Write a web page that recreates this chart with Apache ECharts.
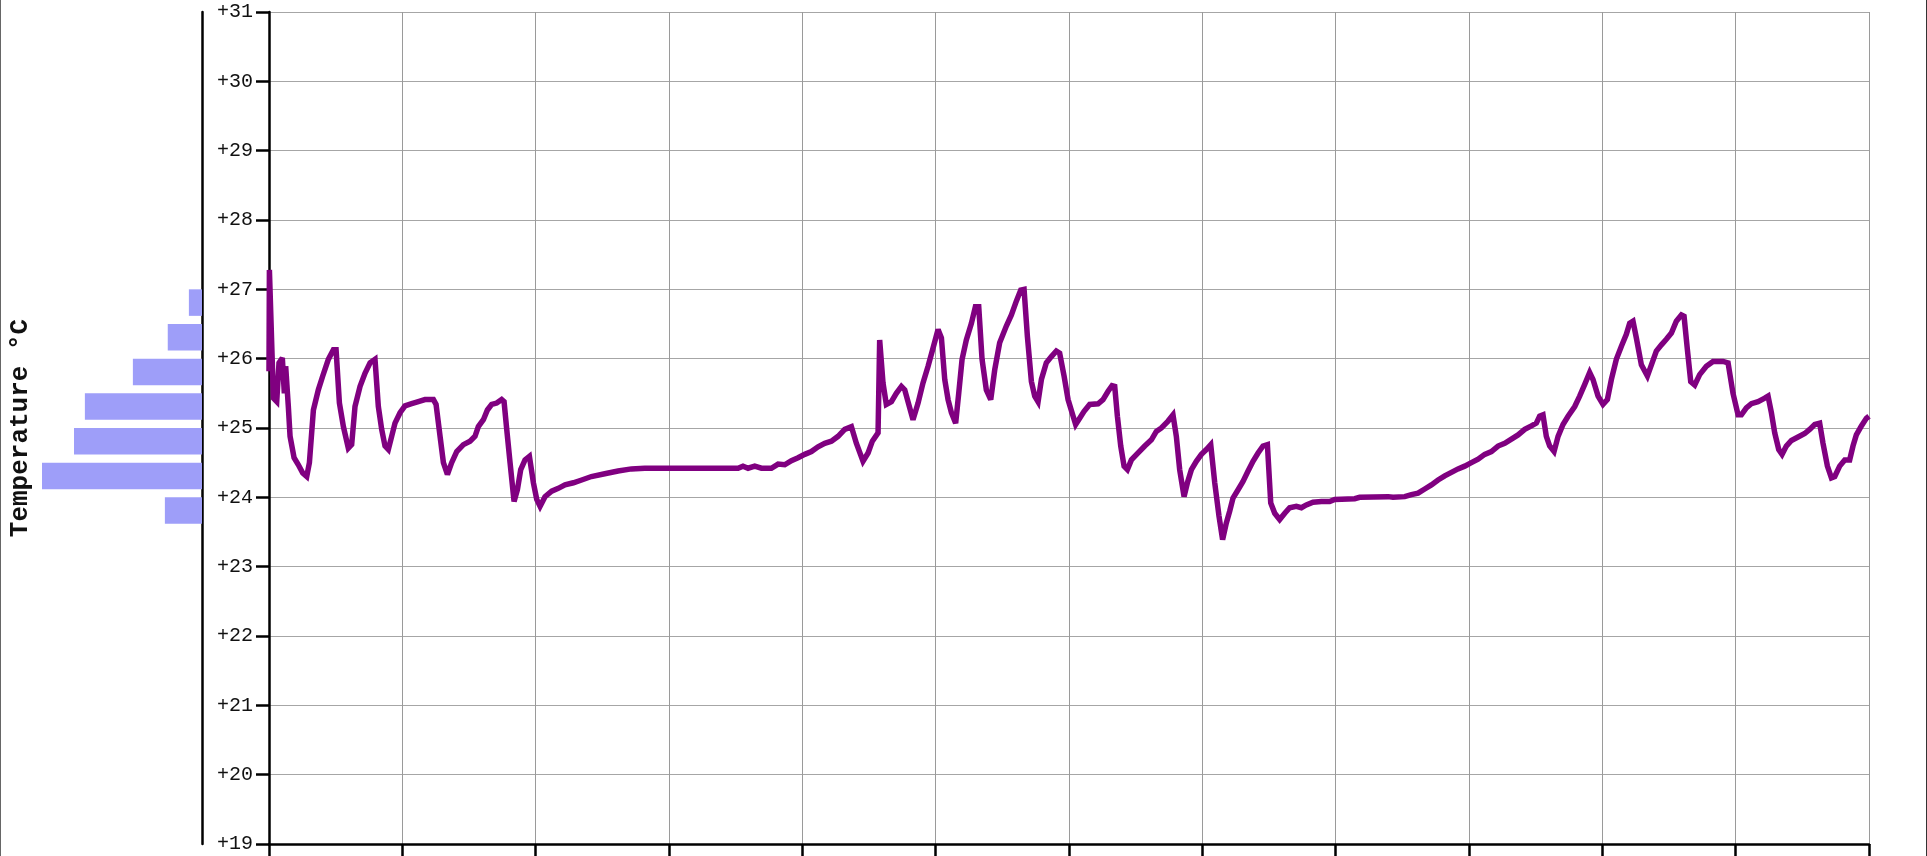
<!DOCTYPE html>
<html>
<head>
<meta charset="utf-8">
<script src="https://cdn.jsdelivr.net/npm/echarts@6/dist/echarts.min.js"></script>
<style>
  html, body { margin: 0; padding: 0; background: #fff; }
  #chart { width: 1927px; height: 856px; box-sizing: border-box; border-left: 1px solid #666; border-right: 1px solid #333; }
</style>
</head>
<body>
<div id="chart"></div>
<script>
// ---- data ----
var timeValues = [
  0, 0.003, 0.033, 0.058, 0.075, 0.1, 0.115, 0.125, 0.145, 0.158, 0.188, 0.22, 0.253, 0.283, 0.303,
  0.333, 0.37, 0.403, 0.445, 0.483, 0.503, 0.528, 0.558, 0.595, 0.62, 0.645, 0.683, 0.72, 0.758, 0.795,
  0.82, 0.845, 0.87, 0.895, 0.92, 0.945, 0.983, 1.02, 1.07, 1.12, 1.17, 1.233, 1.253, 1.283, 1.308,
  1.338, 1.37, 1.408, 1.458, 1.508, 1.545, 1.57, 1.608, 1.638, 1.67, 1.708, 1.745, 1.763, 1.783, 1.808,
  1.838, 1.863, 1.888, 1.92, 1.953, 1.983, 2.008, 2.033, 2.07, 2.12, 2.17, 2.22, 2.283, 2.345, 2.418,
  2.518, 2.618, 2.718, 2.818, 3.09, 3.518, 3.555, 3.593, 3.643, 3.693, 3.768, 3.818, 3.868, 3.918, 3.968,
  4.018, 4.068, 4.118, 4.168, 4.218, 4.268, 4.318, 4.368, 4.405, 4.455, 4.493, 4.525, 4.568, 4.58, 4.605,
  4.63, 4.668, 4.705, 4.743, 4.768, 4.83, 4.868, 4.905, 4.943, 4.98, 5.018, 5.043, 5.068, 5.093, 5.118,
  5.15, 5.173, 5.198, 5.23, 5.268, 5.298, 5.323, 5.348, 5.38, 5.413, 5.443, 5.48, 5.53, 5.568, 5.605,
  5.638, 5.663, 5.688, 5.718, 5.743, 5.768, 5.793, 5.83, 5.868, 5.905, 5.93, 5.963, 5.993, 6.023, 6.05,
  6.08, 6.113, 6.155, 6.218, 6.255, 6.293, 6.323, 6.343, 6.363, 6.388, 6.413, 6.438, 6.468, 6.518, 6.568,
  6.618, 6.655, 6.693, 6.743, 6.78, 6.805, 6.83, 6.863, 6.888, 6.918, 6.955, 6.993, 7.03, 7.063, 7.093,
  7.125, 7.152, 7.18, 7.205, 7.23, 7.268, 7.305, 7.343, 7.38, 7.418, 7.455, 7.488, 7.513, 7.543, 7.58,
  7.618, 7.655, 7.705, 7.743, 7.78, 7.83, 7.893, 7.955, 7.993, 8.143, 8.18, 8.393, 8.405, 8.43, 8.518,
  8.568, 8.618, 8.668, 8.718, 8.768, 8.818, 8.868, 8.918, 8.968, 9.018, 9.068, 9.118, 9.168, 9.218, 9.268,
  9.318, 9.368, 9.418, 9.468, 9.505, 9.53, 9.555, 9.58, 9.605, 9.638, 9.668, 9.705, 9.743, 9.793, 9.83,
  9.868, 9.905, 9.93, 9.968, 10.005, 10.038, 10.068, 10.105, 10.143, 10.18, 10.205, 10.23, 10.255, 10.293, 10.338,
  10.368, 10.405, 10.443, 10.48, 10.518, 10.555, 10.593, 10.613, 10.638, 10.663, 10.693, 10.73, 10.78, 10.83, 10.905,
  10.943, 10.98, 11.018, 11.043, 11.08, 11.118, 11.168, 11.218, 11.243, 11.268, 11.293, 11.323, 11.348, 11.38, 11.418,
  11.468, 11.518, 11.555, 11.593, 11.63, 11.655, 11.688, 11.718, 11.743, 11.78, 11.818, 11.855, 11.88, 11.905, 11.943,
  11.98, 12.0
];
var temperatures = [
  25.82, 27.28, 25.43, 25.38, 25.94, 26.01, 25.5, 25.89, 25.31, 24.88, 24.57, 24.47, 24.35, 24.3, 24.5,
  25.26, 25.55, 25.75, 25.99, 26.13, 26.13, 25.36, 25.02, 24.71, 24.76, 25.31, 25.6, 25.79, 25.94, 25.99,
  25.31, 24.98, 24.74, 24.69, 24.88, 25.07, 25.22, 25.32, 25.35, 25.38, 25.41, 25.41, 25.34, 24.88, 24.5,
  24.33, 24.5, 24.66, 24.76, 24.81, 24.88, 25.02, 25.12, 25.26, 25.34, 25.36, 25.41, 25.38, 24.98, 24.5,
  23.94, 24.11, 24.4, 24.54, 24.59, 24.21, 23.97, 23.87, 24.01, 24.09, 24.13, 24.18, 24.21, 24.25, 24.3,
  24.34, 24.38, 24.41, 24.42, 24.42, 24.42, 24.45, 24.42, 24.45, 24.42, 24.42, 24.48, 24.47, 24.53, 24.57,
  24.62, 24.66, 24.73, 24.78, 24.81, 24.88, 24.98, 25.02, 24.78, 24.52, 24.64, 24.81, 24.93, 26.27, 25.65,
  25.34, 25.38, 25.5, 25.6, 25.55, 25.12, 25.36, 25.65, 25.89, 26.15, 26.42, 26.3, 25.7, 25.41, 25.22,
  25.07, 25.5, 25.99, 26.27, 26.51, 26.75, 26.75, 25.99, 25.55, 25.41, 25.84, 26.23, 26.47, 26.63, 26.83,
  26.99, 27.0, 26.32, 25.67, 25.46, 25.38, 25.7, 25.94, 26.03, 26.11, 26.08, 25.75, 25.41, 25.22, 25.05,
  25.14, 25.24, 25.34, 25.35, 25.41, 25.53, 25.61, 25.6, 25.17, 24.74, 24.45, 24.4, 24.54, 24.64, 24.74,
  24.83, 24.95, 25.0, 25.1, 25.19, 24.88, 24.4, 24.01, 24.21, 24.4, 24.52, 24.62, 24.69, 24.76, 24.21,
  23.73, 23.39, 23.63, 23.8, 23.99, 24.11, 24.23, 24.38, 24.52, 24.64, 24.74, 24.76, 23.92, 23.77, 23.68,
  23.77, 23.85, 23.87, 23.85, 23.89, 23.93, 23.94, 23.94, 23.97, 23.98, 24.0, 24.01, 24.03, 24.0, 24.01,
  24.04, 24.06, 24.12, 24.18, 24.25, 24.31, 24.36, 24.41, 24.45, 24.5, 24.55, 24.62, 24.66, 24.74, 24.78,
  24.84, 24.9, 24.98, 25.03, 25.07, 25.17, 25.19, 24.88, 24.74, 24.66, 24.88, 25.05, 25.17, 25.31, 25.46,
  25.63, 25.8, 25.7, 25.46, 25.34, 25.41, 25.7, 25.99, 26.18, 26.35, 26.51, 26.54, 26.3, 25.91, 25.75,
  25.91, 26.11, 26.2, 26.28, 26.37, 26.54, 26.63, 26.61, 26.13, 25.67, 25.62, 25.77, 25.89, 25.96, 25.96,
  25.94, 25.5, 25.19, 25.19, 25.29, 25.35, 25.38, 25.43, 25.46, 25.22, 24.93, 24.69, 24.62, 24.74, 24.82,
  24.87, 24.92, 24.98, 25.05, 25.07, 24.78, 24.45, 24.28, 24.3, 24.45, 24.54, 24.54, 24.74, 24.9, 25.03,
  25.14, 25.17
];
// histogram: upper edge of each 0.5 °C bin, and its sample count
var histBinUpper = [27, 26.5, 26, 25.5, 25, 24.5, 24];
var histCounts   = [4.1, 10.7, 21.6, 36.6, 40, 50, 11.6];
var yTicks = [19, 20, 21, 22, 23, 24, 25, 26, 27, 28, 29, 30, 31];

// ---- build ----
var BIN = 0.5, BAR_FRACTION = 0.765;
var lineData = timeValues.map(function (t, i) { return [t, temperatures[i]]; });
var histData = histBinUpper.map(function (u, i) { return [histCounts[i], u]; });
var FONT = '"Liberation Mono", "DejaVu Sans Mono", monospace';

var chart = echarts.init(document.getElementById('chart'), null, { renderer: 'canvas' });
chart.setOption({
  animation: false,
  backgroundColor: '#fff',
  grid: [
    { left: 268, top: 12, width: 1600, height: 832, containLabel: false, outerBoundsMode: 'none' },
    { left: 9, top: 12, width: 192, height: 832, containLabel: false, outerBoundsMode: 'none' }
  ],
  xAxis: [
    {
      gridIndex: 0, type: 'value', min: 0, max: 12, interval: 1,
      axisLine: { show: true, onZero: false, lineStyle: { color: '#000', width: 2.5 } },
      axisTick: { show: true, inside: false, length: 14, lineStyle: { color: '#000', width: 2.5 } },
      axisLabel: { show: false },
      splitLine: { show: true, lineStyle: { color: '#9a9a9a', width: 1 } }
    },
    {
      gridIndex: 1, type: 'value', min: 0, max: 60, inverse: true,
      axisLine: { show: false }, axisTick: { show: false }, axisLabel: { show: false }, splitLine: { show: false }
    }
  ],
  yAxis: [
    {
      gridIndex: 0, type: 'value', min: yTicks[0], max: yTicks[yTicks.length - 1], interval: 1,
      axisLine: { show: true, onZero: false, lineStyle: { color: '#000', width: 2.5 } },
      axisTick: { show: true, inside: false, length: 13, lineStyle: { color: '#000', width: 2.5 } },
      axisLabel: {
        show: true, margin: 16, color: '#111', fontSize: 20, fontFamily: FONT,
        formatter: function (v) { return (v > 0 ? '+' : '') + v; }
      },
      splitLine: { show: true, lineStyle: { color: '#a6a6a6', width: 1 } }
    },
    {
      gridIndex: 1, type: 'value', min: yTicks[0], max: yTicks[yTicks.length - 1], position: 'right',
      axisLine: { show: true, onZero: false, lineStyle: { color: '#000', width: 2.5 } },
      axisTick: { show: false }, axisLabel: { show: false }, splitLine: { show: false }
    }
  ],
  graphic: [
    {
      type: 'text', x: 19, y: 428, rotation: Math.PI / 2,
      style: {
        text: 'Temperature °C', fontFamily: FONT, fontWeight: 'bold', fontSize: 26,
        fill: '#111', align: 'center', verticalAlign: 'middle'
      }
    }
  ],
  series: [
    {
      type: 'custom', xAxisIndex: 1, yAxisIndex: 1, data: histData, clip: false,
      encode: { x: 0, y: 1 },
      renderItem: function (params, api) {
        var cnt = api.value(0), upper = api.value(1);
        var p0 = api.coord([0, upper]);
        var p1 = api.coord([cnt, upper - BIN * BAR_FRACTION]);
        return {
          type: 'rect',
          shape: { x: p1[0], y: p0[1], width: p0[0] - p1[0], height: p1[1] - p0[1] },
          style: { fill: '#9e9ef9' }
        };
      }
    },
    {
      type: 'line', xAxisIndex: 0, yAxisIndex: 0, data: lineData,
      symbol: 'none', smooth: false, clip: true,
      lineStyle: { color: '#800080', width: 5.5, join: 'miter', miterLimit: 3 },
      z: 5
    }
  ]
});
</script>
</body>
</html>
